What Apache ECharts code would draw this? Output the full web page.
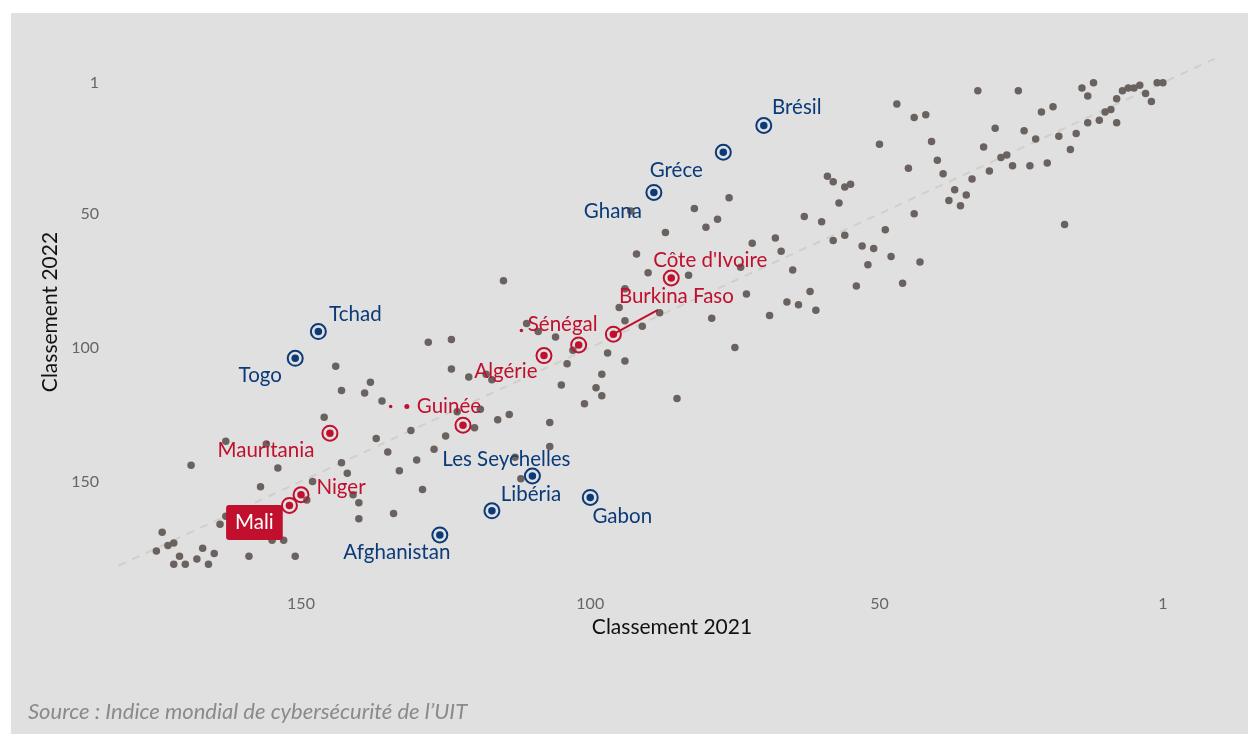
<!DOCTYPE html>
<html><head><meta charset="utf-8">
<script src="https://cdn.jsdelivr.net/npm/echarts@6/dist/echarts.min.js"></script>
<style>html,body{margin:0;padding:0;background:#fff;}#c{width:1248px;height:734px;}</style>
</head><body><div id="c"></div>
<script>
// Other countries: rank 2021 (x) and rank 2022 (y)
const rank2021 = [143,139,138,136,146,131,137,163,156,135,127,169,154,143,130,133,142,148,157,149,141,140,129,134,140,163,164,153,155,174,172,173,175,171,167,165,168,172,170,166,159,151,
115,111,109,106,95,94,91,94,103,97,94,104,98,105,99,98,101,128,124,144,124,121,118,117,123,119,120,116,114,107,107,125,113,112,85,
76,82,93,78,80,87,92,72,68,67,58,56,55,57,63,60,58,56,49,44,38,53,51,48,43,52,54,46,90,83,74,65,73,62,66,64,61,69,79,88,75,59,50,
47,44,42,41,45,40,39,33,26,30,32,37,35,36,34,31,29,28,27,24,25,23,22,20,21,19,17,16,18,14,12,10,11,9,9,14,15,13,8,7,6,5,4,3,2,1];
const rank2022 = [116,117,113,120,126,131,134,135,136,139,138,144,145,143,142,146,147,150,152,157,155,158,153,162,164,163,166,172,172,169,173,174,176,178,175,177,179,181,181,181,178,178,
75,91,94,96,85,90,92,78,101,102,105,106,110,114,115,118,121,98,97,107,108,111,110,112,124,123,130,127,125,128,137,133,141,149,119,
44,48,49,52,55,57,65,61,59,64,38,40,39,46,51,53,60,58,56,50,45,62,63,66,68,69,77,76,72,73,70,71,80,79,83,84,86,88,89,87,100,36,24,
9,14,13,23,33,30,35,4,4,18,25,41,43,47,37,34,29,28,32,32,19,22,12,10,31,21,26,20,54,16,15,11,12,16,7,6,3,1,4,3,3,2,5,8,1,1];

// Highlighted countries
const hlNames = ["Brésil","Gréce","Ghana","Tchad","Togo","Les Seychelles","Libéria","Gabon","Afghanistan",
                 "Côte d'Ivoire","Burkina Faso","Sénégal","Algérie","Guinée","Mauritania","Niger","Mali"];
const hl2021 = [70,77,89,147,151,110,117,100,126, 86,96,102,108,122,145,150,152];
const hl2022 = [17,27,42,94,104,148,161,156,170, 74,95,99,103,129,132,155,159];
const hlGroup = ["b","b","b","b","b","b","b","b","b", "r","r","r","r","r","r","r","r"];

// small repel segment remnants
const segX = [134.5,131.7,111.9];
const segY = [122,122,93.6];
// Burkina Faso leader line end
const leaderX = [96,88.3];
const leaderY = [95,85.9];

const xTicks = [150,100,50,1];
const yTicks = [1,50,100,150];

const BLUE = '#0b3a78', RED = '#c0102e', GREY = '#6a625f';
const FONT = 'Lato, "Open Sans", sans-serif';

// label offsets (style only)
const labelOffsets = {
  "Brésil":[33,-18],"Gréce":[-47,18],"Ghana":[-41,19],"Tchad":[37,-17],"Togo":[-35,17],
  "Les Seychelles":[-26,-17],"Libéria":[39,-16],"Gabon":[32,19],"Afghanistan":[-43,17],
  "Côte d'Ivoire":[39,-18],"Burkina Faso":[63,-38],"Sénégal":[-16,-21],"Algérie":[-38,16],
  "Guinée":[-14,-19],"Mauritania":[-64,17],"Niger":[40,-7],"Mali":[-35,17]
};

const others = rank2021.map((x,i)=>[x, rank2022[i]]);
const hlData = hlNames.map((n,i)=>{
  const col = hlGroup[i]==='b'?BLUE:RED;
  const isMali = n==='Mali';
  return {
    name:n, value:[hl2021[i], hl2022[i]],
    itemStyle:{color:col, opacity:1},
    label:{show:true, formatter:n, position:'inside', offset:labelOffsets[n],
      color: isMali?'#fff':col, fontSize:20.5, fontFamily:FONT, opacity:1,
      backgroundColor: isMali?RED:'transparent', padding: isMali?[7,9]:0, borderRadius:3,
      align:'center', verticalAlign:'middle'}
  };
});
const ringData = hlNames.map((n,i)=>({value:[hl2021[i], hl2022[i]],
  itemStyle:{color:'rgba(0,0,0,0)', opacity:1, borderColor: hlGroup[i]==='b'?BLUE:RED, borderWidth:2}}));

const chart = echarts.init(document.getElementById('c'));
chart.setOption({
  animation:false,
  backgroundColor:'#fff',
  graphic:[
    {type:'rect', left:11, top:13, shape:{width:1237, height:721}, style:{fill:'#e0e0e0'}, z:-10, silent:true},
    {type:'text', left:28, top:701, style:{text:"Source : Indice mondial de cybersécurité de l’UIT", fill:'#8a8a8a', font:'italic 22px '+FONT}, z:10}
  ],
  grid:{left:113, right:33, top:57, bottom:167},
  xAxis:{type:'value', inverse:true, min:-8, max:182.5,
    name:'Classement 2021', nameLocation:'middle', nameGap:49,
    nameTextStyle:{color:'#111', fontSize:21, fontFamily:FONT, padding:[0,0,0,16]},
    axisLine:{show:false}, axisTick:{show:false}, splitLine:{show:false},
    axisLabel:{customValues:xTicks, margin:29, color:'#666', fontSize:16, fontFamily:FONT, formatter:v=>String(v)}},
  yAxis:{type:'value', inverse:true, min:-8.6, max:182,
    name:'Classement 2022', nameLocation:'middle', nameGap:47, nameRotate:90,
    nameTextStyle:{color:'#111', fontSize:21, fontFamily:FONT},
    axisLine:{show:false}, axisTick:{show:false}, splitLine:{show:false},
    axisLabel:{customValues:yTicks, margin:14, color:'#666', fontSize:16, fontFamily:FONT, formatter:v=>String(v)}},
  series:[
    {type:'line', data:[[-8,-8],[182,182]], symbol:'none', silent:true, z:1,
      lineStyle:{color:'#cfcfcb', width:2, type:[8,7]}},
    {type:'scatter', data:others, symbolSize:7.5, itemStyle:{color:GREY, opacity:1}, z:2},
    {type:'line', data:leaderX.map((x,i)=>[x,leaderY[i]]), symbol:'none', z:3,
      lineStyle:{color:RED, width:2}},
    {type:'scatter', data:segX.map((x,i)=>[x,segY[i]]), symbolSize:(v,p)=>p.dataIndex===1?5:3.5, itemStyle:{color:RED, opacity:1}, z:3},
    {type:'scatter', data:ringData, symbolSize:15, z:4},
    {type:'scatter', data:hlData, symbolSize:7.5, z:5}
  ]
});
</script></body></html>
